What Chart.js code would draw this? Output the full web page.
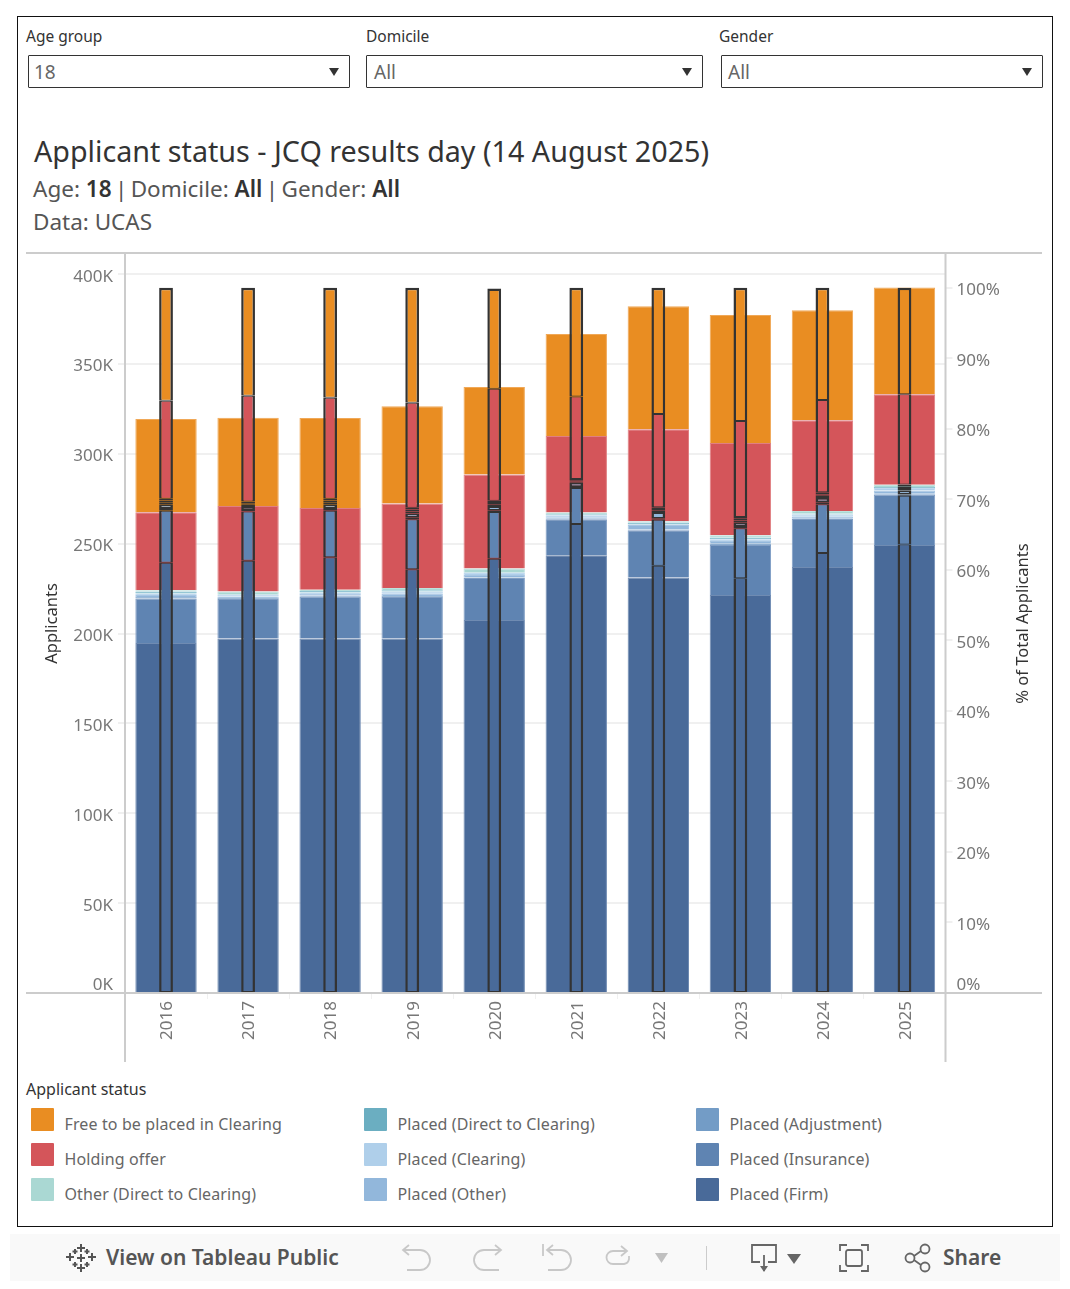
<!DOCTYPE html>
<html>
<head>
<meta charset="utf-8">
<title>Applicant status</title>
<script src="https://cdn.jsdelivr.net/npm/chart.js@4"></script>
<style>
html, body { margin: 0; padding: 0; background: #fff; }
body { position: relative; width: 1070px; height: 1289px; overflow: hidden; font-family: "Noto Sans", sans-serif; }
.abs { position: absolute; white-space: nowrap; }
#frame { left: 17px; top: 16px; width: 1034px; height: 1209px; border: 1.4px solid #111; }
#myChart { position: absolute; left: 26px; top: 250px; }
.flabel { font-size: 15.5px; color: #333; top: 25px; }
.fbox { top: 55px; height: 31px; border: 1.4px solid #333; border-radius: 1px; font-size: 19px; line-height: 33px; color: #666; box-sizing: content-box; }
.fbox span { margin-left: 5px; }
.fbox i { position: absolute; right: 10px; top: 12px; width: 0; height: 0; border-left: 5.5px solid transparent; border-right: 5.5px solid transparent; border-top: 8px solid #333; }
.sub { font-size: 22.5px; color: #555; left: 33px; }
.sub b { color: #333; font-weight: 600; }
.sub u { text-decoration: none; color: #555; margin: 0 -2.5px; }
.swatch { width: 23px; height: 23px; border-radius: 1px; }
.ltext { font-size: 16px; color: #666; letter-spacing: 0.12px; }
#toolbar { left: 10px; top: 1234px; width: 1050px; height: 47px; background: #f9f9f9; }
svg.ico { position: absolute; overflow: visible; }
</style>
</head>
<body>
<div id="frame" class="abs"></div>

<div class="abs flabel" style="left:26px">Age group</div>
<div class="abs flabel" style="left:366px">Domicile</div>
<div class="abs flabel" style="left:719px">Gender</div>
<div class="abs fbox" style="left:28px;width:320px"><span>18</span><i></i></div>
<div class="abs fbox" style="left:366px;width:335px"><span style="margin-left:7px">All</span><i></i></div>
<div class="abs fbox" style="left:721px;width:320px"><span style="margin-left:6px">All</span><i></i></div>

<div class="abs" style="left:34px;top:131px;font-size:28.7px;color:#333">Applicant status - JCQ results day (14 August 2025)</div>
<div class="abs sub" style="top:173px">Age: <b>18</b> <u>|</u> Domicile: <b>All</b> <u>|</u> Gender: <b>All</b></div>
<div class="abs sub" style="top:206px">Data: UCAS</div>

<canvas id="myChart" width="1016" height="815"></canvas>

<div class="abs" style="left:26px;top:1078px;font-size:16px;color:#333">Applicant status</div>
<div id="legend"></div>

<div id="toolbar" class="abs"></div>
<svg class="ico" style="left:66px;top:1243px" width="30" height="30" viewBox="0 0 30 30" stroke="#555" stroke-width="2" fill="none">
  <path d="M15 1v8M11 5h8M15 21v8M11 25h8M4 10v8M0 14h8M26 10v8M22 14h8M9 6v5M6.500 8.500h5M21 6v5M18.500 8.500h5M9 19v5M6.500 21.500h5M21 19v5M18.500 21.500h5M15 11v8M11 15h8"/>
</svg>
<div class="abs" style="left:106px;top:1243px;font-size:21px;font-weight:600;color:#555">View on Tableau Public</div>
<svg class="ico" style="left:400px;top:1242px" width="240" height="32" viewBox="0 0 240 32" stroke="#c8c8c8" stroke-width="1.8" fill="none">
  <path d="M4 8h16a9.500 9.500 0 0 1 0 20H7M9 3L3 8l6 5"/>
  <path d="M100 8H84a9.500 9.500 0 0 0 0 20h15M95 3l6 5-6 5"/>
  <path d="M148 8h13a9.500 9.500 0 0 1 0 20h-13M153 3l-6 5 6 5M143 2v12"/>
  <path d="M226 9h-13a6.500 6.500 0 0 0 0 13h11a6 6 0 0 0 5-5v-3M221 4l6 5-6 5"/>
</svg>
<svg class="ico" style="left:654px;top:1252px" width="16" height="12"><path d="M1 1h13l-6.500 10z" fill="#c0c0c0"/></svg>
<div class="abs" style="left:706px;top:1246px;width:1px;height:24px;background:#ccc"></div>
<svg class="ico" style="left:750px;top:1243px" width="60" height="32" viewBox="0 0 60 32" stroke="#666" stroke-width="1.8" fill="none">
  <path d="M10 19H2V2h24v17h-8M14 12v16"/>
  <path d="M10 23h8l-4 6z" fill="#666" stroke="none"/>
  <path d="M37 11h14l-7 10z" fill="#666" stroke="none"/>
</svg>
<svg class="ico" style="left:838px;top:1243px" width="32" height="30" viewBox="0 0 32 30" stroke="#666" stroke-width="1.8" fill="none">
  <path d="M2 8V2h7M23 2h7v6M2 22v6h7M23 28h7v-6"/>
  <rect x="8" y="7" width="16" height="16" rx="2"/>
</svg>
<svg class="ico" style="left:904px;top:1243px" width="30" height="30" viewBox="0 0 30 30" stroke="#666" stroke-width="1.8" fill="none">
  <circle cx="6" cy="15" r="4.500"/><circle cx="21" cy="6" r="4.500"/><circle cx="21" cy="24" r="4.500"/>
  <path d="M10 13l7-5M10 17l7 5"/>
</svg>
<div class="abs" style="left:943px;top:1243px;font-size:21px;font-weight:600;color:#555">Share</div>

<script>
const years = ["2016", "2017", "2018", "2019", "2020", "2021", "2022", "2023", "2024", "2025"];

// Applicants, in thousands
const countFirm = [194.8, 197.3, 197.3, 197.3, 207.6, 243.7, 231.2, 221.5, 237.1, 249.3];
const countInsurance = [24.8, 22.0, 23.3, 23.1, 23.4, 20.0, 26.4, 27.8, 26.7, 28.0];
const countAdjustment = [0.8, 0.6, 0.7, 0.6, 0.3, 0.3, 0.4, 0.8, 0.2, 0.5];
const countOther = [1.1, 0.8, 0.8, 1.2, 1.4, 0.8, 2.5, 1.4, 1.0, 1.9];
const countClearing = [0.8, 0.8, 0.8, 1.2, 1.1, 1.1, 0.3, 1.0, 1.3, 1.3];
const countDirect = [1.1, 0.3, 0.8, 0.7, 0.3, 0.6, 1.1, 1.0, 0.6, 0.6];
const countOtherDirect = [0.8, 1.7, 0.8, 1.3, 2.2, 0.9, 0.7, 1.2, 1.3, 1.3];
const countHolding = [43.4, 47.6, 45.4, 47.1, 52.3, 42.6, 51.2, 51.4, 50.6, 50.3];
const countFree = [51.8, 49.0, 50.1, 54.0, 48.7, 56.8, 68.4, 71.2, 61.2, 59.5];

// % of total applicants
const shareFirm = [61.0, 61.3, 61.8, 60.1, 61.6, 66.5, 60.6, 58.8, 62.4, 63.6];
const shareInsurance = [7.4, 7.0, 6.6, 7.1, 6.6, 5.1, 6.5, 7.1, 6.9, 6.9];
const shareAdjustment = [0.25, 0.2, 0.25, 0.2, 0.2, 0.15, 0.15, 0.2, 0.3, 0.2];
const shareOther = [0.65, 0.55, 0.65, 0.6, 0.65, 0.6, 0.95, 0.6, 0.6, 0.6];
const shareClearing = [0.3, 0.2, 0.3, 0.3, 0.25, 0.2, 0.25, 0.3, 0.3, 0.3];
const shareDirect = [0.25, 0.2, 0.25, 0.25, 0.2, 0.15, 0.2, 0.25, 0.2, 0.25];
const shareOtherDirect = [0.25, 0.25, 0.25, 0.25, 0.3, 0.2, 0.25, 0.25, 0.3, 0.25];
const shareHolding = [13.9, 15.0, 14.3, 14.9, 15.9, 11.7, 13.2, 13.6, 13.1, 12.8];
const shareFree = [16.0, 15.3, 15.6, 16.3, 14.2, 15.4, 17.9, 18.9, 15.9, 15.1];

const statusNames = ["Placed (Firm)", "Placed (Insurance)", "Placed (Adjustment)", "Placed (Other)", "Placed (Clearing)", "Placed (Direct to Clearing)", "Other (Direct to Clearing)", "Holding offer", "Free to be placed in Clearing"];
const statusColors = ["#496A99", "#5F84B2", "#739CC6", "#92B7DB", "#AFCFEA", "#6BAEC1", "#AAD8D3", "#D4555A", "#E98D22"];
const statusEdges = ["#6F8BB2", "#7F9DC4", "#8FB0D2", "#A8C6E3", "#BFD9EF", "#84BFCF", "#BEE2DE", "#E07F82", "#F0A857"];
const counts = [countFirm, countInsurance, countAdjustment, countOther, countClearing, countDirect, countOtherDirect, countHolding, countFree];
const shares = [shareFirm, shareInsurance, shareAdjustment, shareOther, shareClearing, shareDirect, shareOtherDirect, shareHolding, shareFree];

// Legend runs top to bottom, column by column, from the end of the status list
const legend = document.getElementById("legend");
for (let i = 0; i < statusNames.length; i++) {
    const pos = statusNames.length - 1 - i;
    const col = Math.floor(pos / 3);
    const row = pos % 3;
    const left = [31, 364, 696][col];
    const top = 1108 + row * 35;
    legend.innerHTML += '<div class="abs swatch" style="left:' + left + 'px;top:' + top + 'px;background:' + statusColors[i] + '"></div>' +
        '<div class="abs ltext" style="left:' + (left + 33.500) + 'px;top:' + (top + 5) + 'px">' + statusNames[i] + '</div>';
}

const datasets = [];
// thin bars first so they are painted on top of the wide ones
for (let i = 0; i < shares.length; i++) {
    // the five tiny statuses get a heavier edge so they read as one dark band
    const edge = (i >= 2 && i <= 6) ? 1.8 : 1;
    datasets.push({
        label: statusNames[i] + " %",
        data: shares[i],
        yAxisID: "y1",
        stack: "share",
        grouped: false,
        backgroundColor: statusColors[i],
        borderColor: "#333",
        borderWidth: { left: 2.5, right: 2.5, top: i == shares.length - 1 ? 2.5 : edge, bottom: edge },
        borderSkipped: false,
        barPercentage: 1,
        categoryPercentage: 0.168
    });
}
for (let i = 0; i < counts.length; i++) {
    datasets.push({
        label: statusNames[i],
        data: counts[i],
        yAxisID: "y",
        stack: "count",
        grouped: false,
        backgroundColor: statusColors[i],
        borderColor: statusEdges[i],
        borderWidth: { left: 1, right: 1, top: 1, bottom: 0 },
        borderSkipped: false,
        barPercentage: 1,
        categoryPercentage: 0.748
    });
}

const tickFont = { family: "Noto Sans", size: 17 };
const titleFont = { family: "Noto Sans", size: 16.5 };

// Tableau pane lines: they run past the plot area, so draw them by hand.
// The right title reads upwards, the axis title option can't do that.
const paneLines = {
    id: "paneLines",
    beforeDraw(chart) {
        // nudge tick labels to where Tableau puts them
        chart.scales.y.getLabelItems().forEach(item => { item.options.translation[1] += 2.5; });
        chart.scales.y1.getLabelItems().forEach(item => { item.options.translation[1] += 2.5; });
        chart.scales.x.getLabelItems().forEach(item => { item.options.translation[0] += 1.5; });
    },
    afterDraw(chart) {
        const ctx = chart.ctx;
        const area = chart.chartArea;
        ctx.save();
        ctx.strokeStyle = "#cccccc";
        ctx.lineWidth = 2;
        ctx.beginPath();
        ctx.moveTo(0, 3); ctx.lineTo(chart.width, 3);
        ctx.moveTo(0, area.bottom); ctx.lineTo(chart.width, area.bottom);
        ctx.moveTo(area.left, 3); ctx.lineTo(area.left, 812);
        ctx.moveTo(area.right, 3); ctx.lineTo(area.right, 812);
        ctx.stroke();
        ctx.translate(997, (area.top + area.bottom) / 2);
        ctx.rotate(-Math.PI / 2);
        ctx.fillStyle = "#333";
        ctx.font = titleFont.size + "px '" + titleFont.family + "'";
        ctx.textAlign = "center";
        ctx.textBaseline = "middle";
        ctx.fillText("% of Total Applicants", 0, 0);
        ctx.restore();
    }
};

// the layout keeps room for half a tick label at each end, we don't want that here
function noLabelPadding(s) {
    s.paddingTop = 0;
    s.paddingBottom = 0;
    s.paddingLeft = 0;
    s.paddingRight = 0;
}

const tickColor = "#777";
new Chart(document.getElementById("myChart"), {
    type: "bar",
    data: { labels: years, datasets: datasets },
    plugins: [paneLines],
    options: {
        responsive: false,
        animation: false,
        layout: { padding: { top: 4 } },
        plugins: { legend: { display: false }, tooltip: { enabled: false } },
        scales: {
            x: {
                stacked: true,
                grid: { drawOnChartArea: false, color: "#f0f0f0", tickLength: 6 },
                border: { display: false },
                ticks: { color: tickColor, minRotation: 90, maxRotation: 90, padding: 2, font: tickFont },
                afterFit(s) { s.height = 72; noLabelPadding(s); }
            },
            y: {
                stacked: true,
                min: 0,
                max: 411.3,
                grid: { color: "#f0f0f0", lineWidth: 2, tickLength: 7 },
                border: { display: false },
                ticks: {
                    stepSize: 50,
                    includeBounds: false,
                    color: tickColor,
                    padding: 5,
                    font: tickFont,
                    // 0K sits above the axis line, the blank line pushes it up
                    callback: v => v == 0 ? ["0K", ""] : v + "K"
                },
                title: { display: true, text: "Applicants", color: "#333", padding: { top: 16, bottom: 0 }, font: titleFont },
                afterFit(s) { s.width = 99; noLabelPadding(s); }
            },
            y1: {
                position: "right",
                stacked: true,
                min: 0,
                max: 104.8,
                grid: { drawOnChartArea: false, color: "#f0f0f0", lineWidth: 2, tickLength: 7 },
                border: { display: false },
                ticks: {
                    stepSize: 10,
                    includeBounds: false,
                    color: tickColor,
                    padding: 4,
                    font: tickFont,
                    callback: v => v == 0 ? ["0%", ""] : v + "%"
                },
                afterFit(s) { s.width = 96.5; noLabelPadding(s); }
            }
        }
    }
});
</script>
</body>
</html>
